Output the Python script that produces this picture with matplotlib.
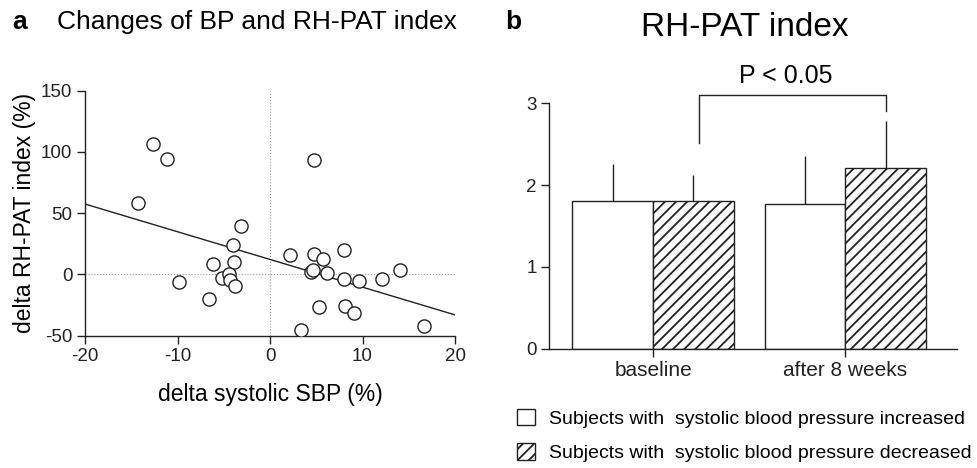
import matplotlib
matplotlib.use("Agg")
import matplotlib.pyplot as plt
import numpy as np

plt.rcParams['font.family'] = ['Liberation Sans', 'DejaVu Sans']
plt.rcParams['hatch.linewidth'] = 1.3
plt.rcParams['axes.unicode_minus'] = False

# panel a: change in SBP vs change in RH-PAT index (%)
delta_sbp = [-12.7, -11.1, -14.3, -3.1, -4.0, -3.9, -6.2, -9.8, -5.2, -4.4,
             -4.3, -3.8, -6.6, 2.2, 4.8, 4.8, 5.7, 4.4, 4.7, 6.2,
             8.0, 8.0, 9.6, 12.1, 14.1, 5.3, 8.1, 9.1, 3.3, 16.6]
delta_rhpat = [106.5, 94.5, 58.0, 39.5, 24.3, 10.4, 8.2, -6.5, -2.7, 0.6,
               -4.6, -9.7, -20.0, 15.9, 93.1, 17.0, 12.3, 2.0, 3.5, 1.2,
               19.7, -3.7, -5.1, -3.7, 3.9, -26.3, -26.0, -31.5, -45.4, -41.8]
fit_x = [-20, 20]
fit_y = [57.5, -33.0]

# panel b: RH-PAT index mean and SD
groups = ['baseline', 'after 8 weeks']
increased_mean = [1.80, 1.77]
increased_sd = [0.46, 0.59]
decreased_mean = [1.81, 2.21]
decreased_sd = [0.31, 0.57]
legend_labels = ['Subjects with  systolic blood pressure increased',
                 'Subjects with  systolic blood pressure decreased']

W, H = 977, 468
fig = plt.figure(figsize=(W / 100, H / 100), dpi=100)

# ---- panel a ----
ax1 = fig.add_axes([85 / W, 1 - 335.7 / H, 370 / W, 245 / H])
ax1.axvline(0, color='#999999', lw=0.8, ls=':', zorder=1)
ax1.axhline(0, color='#999999', lw=0.8, ls=':', zorder=1)
ax1.plot(fit_x, fit_y, color='#222222', lw=1.0, zorder=2)
ax1.scatter(delta_sbp, delta_rhpat, s=90, facecolors='white',
            edgecolors='#222222', linewidths=1.0, zorder=3)
ax1.set_xlim(-20, 20)
ax1.set_ylim(-50, 150)
ax1.set_xticks([-20, -10, 0, 10, 20])
ax1.set_yticks([-50, 0, 50, 100, 150])
ax1.set_xlabel('delta systolic SBP (%)', fontsize=16.5, labelpad=13)
ax1.set_ylabel('delta RH-PAT index (%)', fontsize=16.5, labelpad=4)

# ---- panel b ----
ax2 = fig.add_axes([549.3 / W, 1 - 348.7 / H, 407.4 / W, 245.4 / H])
x = np.arange(len(groups))
width = 0.42
b1 = ax2.bar(x - width / 2, increased_mean, width, color='white',
             edgecolor='#222222', linewidth=1.0, zorder=2)
b2 = ax2.bar(x + width / 2, decreased_mean, width, color='white',
             edgecolor='#222222', linewidth=1.0, hatch='///', zorder=2)
ax2.errorbar(x - width / 2, increased_mean, yerr=[np.zeros(2), increased_sd],
             fmt='none', ecolor='#222222', elinewidth=1.0, capsize=0, zorder=1)
ax2.errorbar(x + width / 2, decreased_mean, yerr=[np.zeros(2), decreased_sd],
             fmt='none', ecolor='#222222', elinewidth=1.0, capsize=0, zorder=1)

# significance bracket between hatched bars
bx0, bx1 = x[0] + width / 2 + 0.03, x[1] + width / 2
ax2.plot([bx0, bx0, bx1, bx1], [2.51, 3.1, 3.1, 2.9], color='#222222',
         lw=1.0, clip_on=False)
ax2.text(0.69, 3.19, 'P < 0.05', ha='center', va='bottom', fontsize=18)

ax2.set_xlim(-0.54, 1.58)
ax2.set_ylim(0, 3)
ax2.set_yticks([0, 1, 2, 3])
ax2.set_xticks(x)
ax2.set_xticklabels(groups, fontsize=15)
ax2.tick_params(axis='x', length=0, pad=3)

for ax in (ax1, ax2):
    for side in ('top', 'right'):
        ax.spines[side].set_visible(False)
    for side in ('left', 'bottom'):
        ax.spines[side].set_linewidth(1.0)
        ax.spines[side].set_color('#222222')
    ax.tick_params(axis='y', labelsize=13.5)
    ax.tick_params(colors='#222222', width=1.0, length=6, pad=3)
ax1.tick_params(axis='x', labelsize=13.5)

fig.legend([b1, b2], legend_labels, loc='upper left',
           bbox_to_anchor=(507 / W, 1 - 399 / H), frameon=False,
           fontsize=14, handlelength=0.95, handleheight=0.95,
           handletextpad=0.7, labelspacing=0.8, borderpad=0)

fig.text(12 / W, 1 - 22 / H, 'a', fontsize=19, fontweight='bold', va='center')
fig.text(57 / W, 1 - 22 / H, 'Changes of BP and RH-PAT index', fontsize=19,
         va='center')
fig.text(505 / W, 1 - 22 / H, 'b', fontsize=19, fontweight='bold', va='center')
fig.text(745 / W, 1 - 27 / H, 'RH-PAT index', fontsize=24, ha='center',
         va='center')

fig.savefig('out.png', dpi=100)
